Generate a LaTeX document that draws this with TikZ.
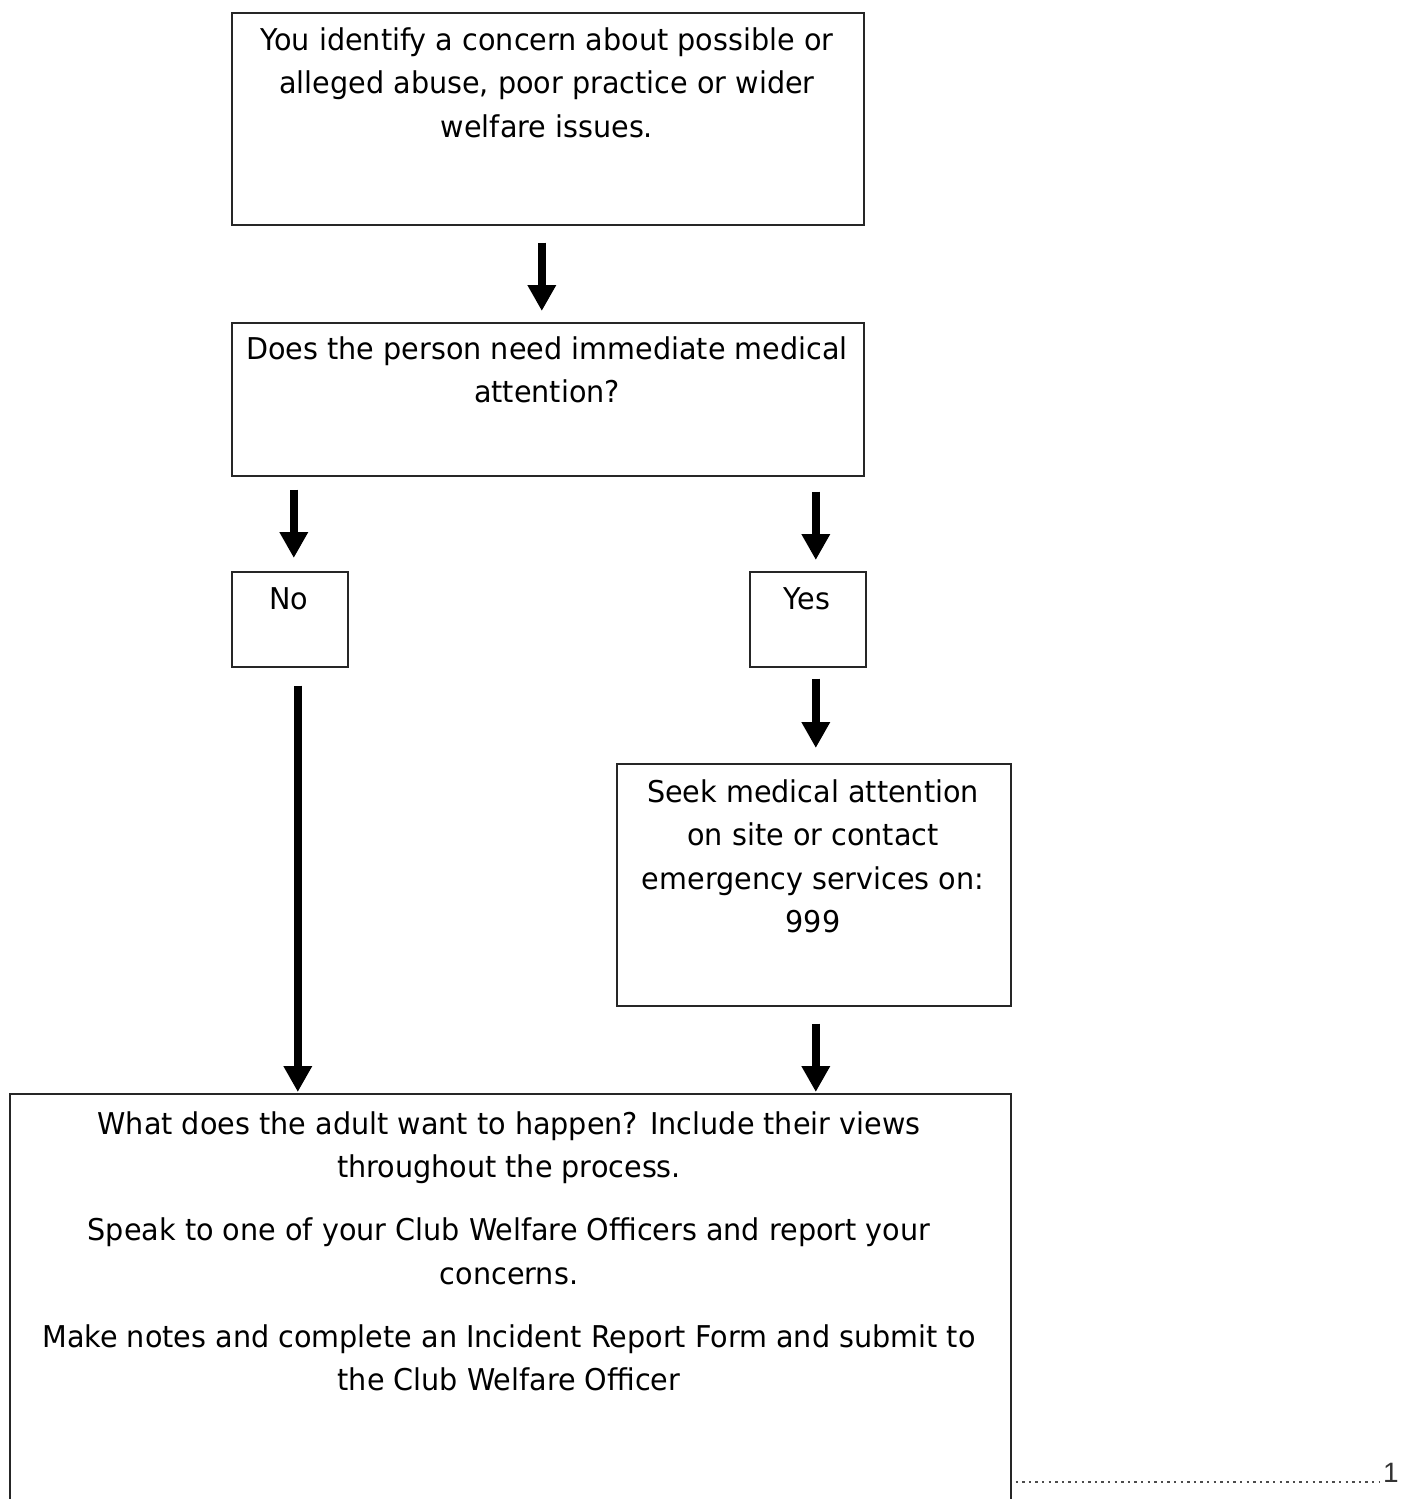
\documentclass[tikz,border=0pt]{standalone}
\usepackage{fontspec}
\setmainfont[FakeStretch=0.955]{DejaVu Sans}
\newfontfamily\pagenumfont{Liberation Sans}
\usetikzlibrary{arrows.meta,calc}

\tikzset{
  box/.style={draw=black!85, line width=1.6pt, rectangle, inner sep=0pt, anchor=north west},
  txt/.style={anchor=base, inner sep=0pt, font=\fontsize{30}{43.5}\selectfont},
  arr/.style={line width=8pt, -{Triangle[width=27pt,length=26pt]}},
  dotline/.style={line width=2.6pt, black!70, dash pattern=on 2.4pt off 4.2pt},
}

\begin{document}
\begin{tikzpicture}[x=1pt,y=1pt]
\useasboundingbox (0,0) rectangle (1401,-1499);
\fill[white] (0,0) rectangle (1401,-1499);

% boxes
\node[box, minimum width=632pt, minimum height=212pt] (b1) at (231,-12) {};
\node[box, minimum width=632pt, minimum height=153pt] (b2) at (231,-322) {};
\node[box, minimum width=116pt, minimum height=95pt] (no) at (231,-571) {};
\node[box, minimum width=116pt, minimum height=95pt] (yes) at (749,-571) {};
\node[box, minimum width=394pt, minimum height=242pt] (seek) at (616,-763) {};
\node[box, minimum width=1001pt, minimum height=420pt] (big) at (9,-1093) {};

% texts
\node[txt] (t1) at (547,-50) {\begin{tabular}[t]{@{}c@{}}You identify a concern about possible or\\alleged abuse, poor practice or wider\\welfare issues.\end{tabular}};
\node[txt] (t2) at (547,-359) {\begin{tabular}[t]{@{}c@{}}Does the person need immediate medical\\attention?\end{tabular}};
\node[txt] (tno) at (289,-609) {No};
\node[txt] (tyes) at (807,-609) {Yes};
\node[txt] (tseek) at (813,-802) {\begin{tabular}[t]{@{}c@{}}Seek medical attention\\on site or contact\\emergency services on:\\999\end{tabular}};
\node[txt] (tbig) at (509,-1134) {\begin{tabular}[t]{@{}c@{}}What does the adult want to happen? Include their views\\throughout the process.\\[19.5pt]Speak to one of your Club Welfare Officers and report your\\concerns.\\[19.5pt]Make notes and complete an Incident Report Form and submit to\\the Club Welfare Officer\end{tabular}};

% arrows
\draw[arr] ($(b1.south)+(-6,-17)$) -- ($(b2.north)+(-6,11)$);
\draw[arr] ($(b2.south -| no.north)+(4,-13)$) -- ($(no.north)+(4,13)$);
\draw[arr] ($(b2.south -| yes.north)+(8,-15)$) -- ($(yes.north)+(8,11)$);
\draw[arr] ($(yes.south)+(8,-11)$) -- ($(seek.north)+(2,15)$);
\draw[arr] ($(no.south)+(8,-18)$) -- ($(big.north -| no.south)+(8,1)$);
\draw[arr] ($(seek.south)+(2,-17)$) -- ($(big.north -| seek.south)+(2,1)$);

% page number footer
\coordinate (dotend) at (1380,-1482);
\draw[dotline] ($(big.south east |- dotend)+(4,0)$) -- (dotend);
\node[anchor=base west, inner sep=0pt, font=\pagenumfont\fontsize{28}{30}\selectfont, text=black!80] (pnum) at ($(dotend)+(3,0)$) {1};
\end{tikzpicture}
\end{document}
